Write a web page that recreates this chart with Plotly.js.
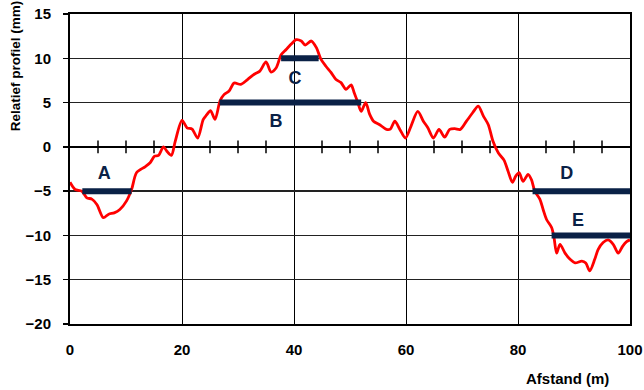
<!DOCTYPE html>
<html>
<head>
<meta charset="utf-8">
<script src="https://cdn.plot.ly/plotly-3.0.1.min.js"></script>
<style>html,body{margin:0;padding:0;background:#fff;}#chart{width:644px;height:390px;}</style>
</head>
<body>
<div id="chart"></div>
<script>
// Profile: distance (m) and relative profile (mm)
const distance = [0, 0.9, 2.1, 3.0, 3.9, 4.8, 5.96, 6.9, 7.9, 8.9, 10.1, 11.0, 11.9, 13.4, 14.3, 15.1, 15.8, 16.7, 17.3, 18.1, 18.8, 20.0, 20.9, 21.8, 22.8, 23.8, 24.4, 25.1, 25.9, 26.8, 27.5, 28.4, 29.3, 30.5, 31.7, 32.9, 33.9, 35.0, 35.9, 36.8, 37.7, 38.6, 39.5, 40.4, 41.3, 42.0, 43.1, 44.0, 44.8, 45.7, 46.6, 47.5, 48.4, 49.3, 50.2, 50.7, 51.4, 52.0, 52.8, 53.5, 54.2, 55.3, 56.5, 57.2, 58.0, 58.9, 59.9, 60.9, 62.1, 63.1, 63.9, 64.9, 65.9, 66.9, 67.8, 68.7, 69.7, 70.8, 71.9, 72.9, 73.8, 74.7, 75.5, 76.5, 77.5, 78.2, 79.0, 79.6, 80.2, 80.9, 81.8, 82.4, 83.0, 83.9, 84.5, 85.1, 86.0, 86.4, 86.9, 87.5, 88.4, 89.3, 90.2, 91.4, 92.1, 92.8, 93.7, 94.3, 95.2, 96.1, 97.0, 97.9, 98.7, 99.4, 100];
const profile = [-4.0, -4.8, -5.0, -5.75, -5.9, -6.5, -8.0, -7.6, -7.45, -7.07, -6.1, -4.8, -2.9, -2.25, -1.8, -1.05, -0.97, 0.0, -0.5, -0.97, 0.65, 3.0, 2.15, 2.0, 1.0, 3.1, 3.6, 4.1, 3.1, 5.2, 5.9, 6.3, 7.2, 7.05, 7.6, 8.2, 8.55, 9.6, 8.45, 8.9, 10.4, 11.0, 11.6, 12.1, 11.95, 11.5, 11.95, 11.2, 9.9, 9.1, 8.4, 7.6, 7.25, 6.5, 7.0, 6.2, 5.0, 4.0, 5.0, 3.7, 2.9, 2.5, 1.97, 2.0, 2.9, 1.97, 1.0, 2.35, 4.0, 2.9, 2.15, 1.0, 1.97, 1.1, 1.97, 2.05, 1.97, 2.9, 3.85, 4.6, 3.5, 2.5, 0.7, -0.7, -1.5, -2.7, -4.0, -3.3, -2.9, -3.9, -3.1, -3.7, -5.0, -5.9, -7.1, -8.2, -9.1, -10.1, -12.0, -11.0, -12.0, -12.7, -13.1, -12.9, -13.1, -14.0, -12.7, -11.6, -10.8, -10.5, -11.0, -12.0, -11.2, -10.7, -10.5];

// Reference segments A-E
const segLabels = ["A", "B", "C", "D", "E"];
const segStart = [2.2, 26.7, 37.7, 82.6, 86.0];
const segEnd = [11.0, 52.0, 44.4, 100, 100];
const segLevel = [-5, 5, 10, -5, -10];
const labelX = [6.1, 36.8, 40.2, 88.7, 90.7];
const labelY = [-3.1, 2.75, 7.6, -3.1, -8.4];

// Minor ticks on the zero line
const zeroTicks = [5, 10, 15, 25, 30, 35, 45, 50, 55, 65, 70, 75, 85, 90, 95];

const xTitle = "Afstand (m)";
const yTitle = "Relatief profiel (mm)";

const navy = "#0a2146";
const font = "Liberation Sans, Arial, sans-serif";

const traces = [];
traces.push({
  x: zeroTicks, y: zeroTicks.map(() => 0), mode: "markers", type: "scatter",
  marker: {symbol: "line-ns-open", size: 9, color: "#000", line: {color: "#000", width: 1.5}},
  hoverinfo: "skip", showlegend: false
});
traces.push({
  x: distance, y: profile, mode: "lines", type: "scatter",
  line: {color: "#ff0000", width: 2.8, shape: "spline", smoothing: 0.8},
  showlegend: false
});
for (let i = 0; i < segLabels.length; i++) {
  traces.push({
    x: [segStart[i], segEnd[i]], y: [segLevel[i], segLevel[i]], mode: "lines", type: "scatter",
    line: {color: navy, width: 6}, showlegend: false
  });
}
traces.push({
  x: labelX, y: labelY, text: segLabels, mode: "text", type: "scatter",
  textfont: {family: font, size: 18, color: navy, weight: "bold"},
  showlegend: false
});

const layout = {
  width: 644, height: 390,
  margin: {l: 70, r: 14, t: 14, b: 66},
  paper_bgcolor: "#fff", plot_bgcolor: "#fff",
  font: {family: font, color: "#000"},
  showlegend: false,
  xaxis: {
    range: [0, 100], dtick: 20, tick0: 0,
    showgrid: true, gridcolor: "#000", gridwidth: 1,
    showline: true, mirror: true, linecolor: "#000", linewidth: 2,
    zeroline: false, ticks: "", ticklabelstandoff: 11,
    tickfont: {family: font, size: 15, color: "#000", weight: "bold"}
  },
  yaxis: {
    range: [-20, 15], dtick: 5, tick0: 0,
    showgrid: true, gridcolor: "#222", gridwidth: 1.5,
    zeroline: true, zerolinecolor: "#000", zerolinewidth: 1.5,
    showline: true, mirror: true, linecolor: "#000", linewidth: 2,
    ticks: "outside", ticklen: 5, tickwidth: 1.5, tickcolor: "#000",
    ticklabelstandoff: 9,
    tickfont: {family: font, size: 15, color: "#000", weight: "bold"}
  },
  annotations: [
    {text: xTitle, xref: "paper", yref: "paper", x: 0.8875, y: -0.177, xanchor: "center", yanchor: "middle",
     showarrow: false, font: {family: font, size: 15, color: "#000", weight: "bold"}},
    {text: yTitle, xref: "paper", yref: "paper", x: -0.098, y: 0.832, xanchor: "center", yanchor: "middle",
     textangle: -90, showarrow: false, font: {family: font, size: 13.5, color: "#000", weight: "bold"}}
  ]
};

Plotly.newPlot("chart", traces, layout, {staticPlot: true, displayModeBar: false});
</script>
</body>
</html>
